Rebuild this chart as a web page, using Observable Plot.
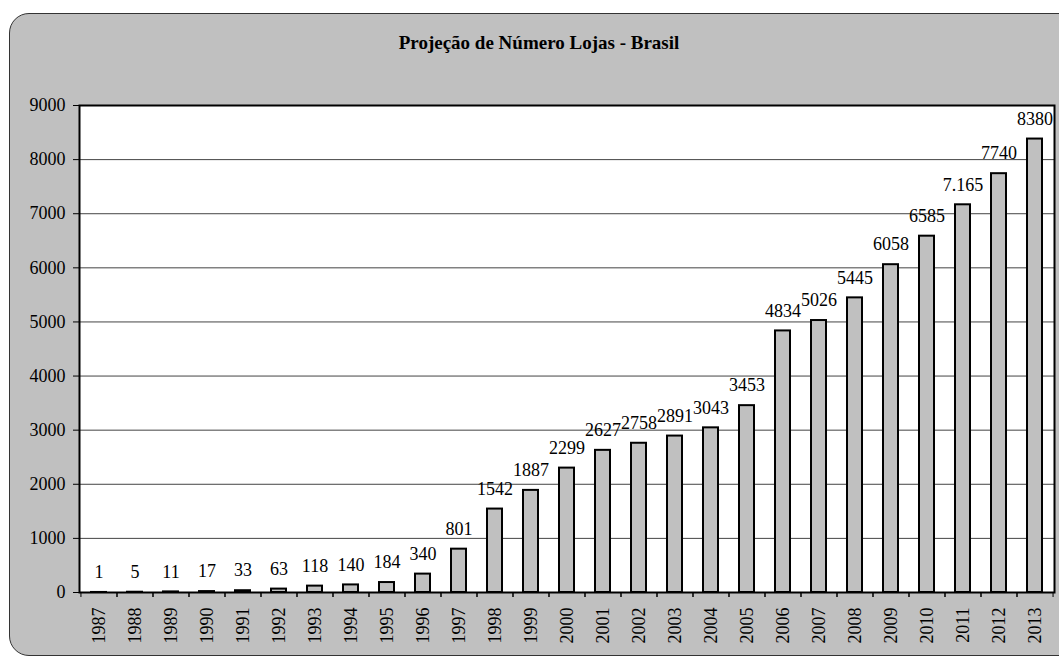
<!DOCTYPE html>
<html>
<head>
<meta charset="utf-8">
<script src="https://cdn.jsdelivr.net/npm/d3@7"></script>
<script src="https://cdn.jsdelivr.net/npm/@observablehq/plot@0.6"></script>
<style>
  html, body { margin: 0; padding: 0; background: #ffffff; width: 1059px; height: 657px; overflow: hidden; }
  #panel { position: absolute; left: 9px; top: 13px; width: 1080px; height: 641px; background: #c0c0c0; border: 1.5px solid #333; border-radius: 20px; }
  #title { position: absolute; left: 0; top: 32px; width: 1078px; text-align: center; font-family: 'Liberation Serif', serif; font-weight: bold; font-size: 19px; color: #000; }
  #chart { position: absolute; left: 0; top: 0; }
  #chart text { font-family: 'Liberation Serif', serif; }
</style>
</head>
<body>
<div id="panel"></div>
<div id="title">Projeção de Número Lojas - Brasil</div>
<div id="chart"></div>
<script>
const years = ["1987","1988","1989","1990","1991","1992","1993","1994","1995","1996","1997","1998","1999","2000","2001","2002","2003","2004","2005","2006","2007","2008","2009","2010","2011","2012","2013"];
const stores = [1,5,11,17,33,63,118,140,184,340,801,1542,1887,2299,2627,2758,2891,3043,3453,4834,5026,5445,6058,6585,7165,7740,8380];
const labels = ["1","5","11","17","33","63","118","140","184","340","801","1542","1887","2299","2627","2758","2891","3043","3453","4834","5026","5445","6058","6585","7.165","7740","8380"];
const yTicks = [0,1000,2000,3000,4000,5000,6000,7000,8000,9000];

const data = years.map((y, i) => ({year: y, value: stores[i], label: labels[i]}));
const step = (1054 - 79) / years.length;
const serif = "'Liberation Serif', serif";

const chart = Plot.plot({
  width: 1059,
  height: 657,
  marginLeft: 79,
  marginRight: 5,
  marginTop: 105,
  marginBottom: 65,
  style: {background: "transparent", fontFamily: serif, fontSize: "18px", color: "#000", overflow: "visible"},
  x: {type: "band", domain: years, paddingInner: 0.575, paddingOuter: 0.2875, label: null},
  y: {domain: [0, 9000], label: null},
  marks: [
    Plot.frame({fill: "#ffffff"}),
    Plot.ruleY(yTicks, {stroke: "#444", strokeWidth: 1}),
    Plot.barY(data, {x: "year", y: "value", fill: "#c0c0c0", stroke: "#000", strokeWidth: 2}),
    Plot.text(data, {x: "year", y: "value", text: "label", dy: -20, fontSize: 18, fontFamily: serif, fill: "#000"}),
    Plot.frame({stroke: "#000", strokeWidth: 2}),
    Plot.axisY({ticks: yTicks, tickSize: 6, tickPadding: 8, tickFormat: d => String(d), fontSize: 18, fontFamily: serif, stroke: "#000", fill: "#000"}),
    Plot.axisX({tickSize: 0, tickRotate: -90, tickPadding: 15, fontSize: 18, fontFamily: serif, fill: "#000"}),
    Plot.axisX({tickSize: 5, tickFormat: () => "", dx: -step / 2, stroke: "#000"}),
    Plot.axisX({tickSize: 5, tickFormat: () => "", dx: step / 2, stroke: "#000"})
  ]
});
document.getElementById("chart").appendChild(chart);
</script>
</body>
</html>
